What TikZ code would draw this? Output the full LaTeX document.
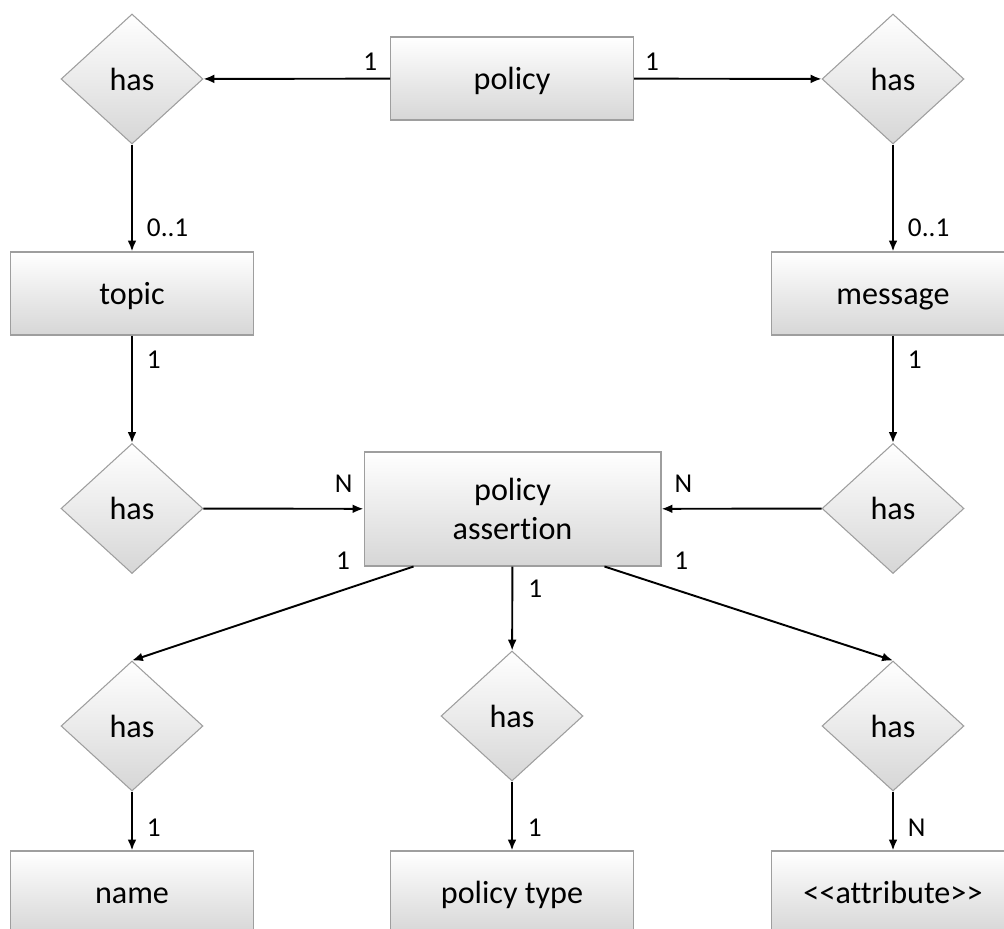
\documentclass[tikz,border=0pt]{standalone}
\usepackage{fontspec}
\setmainfont{Carlito}[Ligatures=NoCommon]
\usetikzlibrary{shapes,arrows,arrows.meta,positioning}

\begin{document}
\begin{tikzpicture}[x=0.02cm, y=-0.02cm, >={Latex[length=6.2pt, width=5pt]},
    entity/.style={rectangle, draw=black!38, line width=0.6pt,
      top color=white, middle color=white, bottom color=black!16,
      minimum width=4.86cm, minimum height=1.66cm, inner sep=0pt,
      text height=16pt, text depth=3pt,
      font=\fontsize{18.3}{22.7}\selectfont},
    rel/.style={diamond, draw=black!38, line width=0.6pt,
      top color=white, middle color=white, bottom color=black!16,
      minimum width=2.84cm, minimum height=2.6cm, inner sep=0pt,
      text height=16pt, text depth=3pt,
      font=\fontsize{18.3}{22.7}\selectfont},
    lbl/.style={inner sep=0pt, font=\fontsize{15.5}{17}\selectfont},
    link/.style={->, line width=1.1pt}]
  \useasboundingbox (0,0) rectangle (1004,929);
  \node[entity] (policy) at (512,78.5) {policy};
  \node[rel] (hasTL) at (132,79) {has};
  \node[rel] (hasTR) at (893,79) {has};
  \node[entity] (topic) at (132,293.5) {topic};
  \node[entity] (message) at (893,293.5) {message};
  \node[rel] (hasML) at (132,508.5) {has};
  \node[rel] (hasMR) at (893,508.5) {has};
  \node[entity, minimum width=5.94cm, minimum height=2.28cm, align=center,
    text height={}, text depth={}] (assertion) at (512.5,509) {policy\\assertion};
  \node[rel] (hasBL) at (132,726) {has};
  \node[rel] (hasBM) at (512,716) {has};
  \node[rel] (hasBR) at (893,726) {has};
  \node[entity] (name) at (132,892.5) {name};
  \node[entity] (ptype) at (512,892.5) {policy type};
  \node[entity] (attribute) at (893,892.5) {<\kern0pt<attribute>\kern0pt>};

  \draw[link] (policy) to node[lbl, pos=0.106, above=0.14cm] {1} (hasTL);
  \draw[link] (policy) to node[lbl, pos=0.096, above=0.14cm] {1} (hasTR);
  \draw[link] (hasTL) to node[lbl, pos=0.78, right=0.28cm] {0..1} (topic);
  \draw[link] (hasTR) to node[lbl, pos=0.78, right=0.28cm] {0..1} (message);
  \draw[link] (topic) to node[lbl, pos=0.23, right=0.28cm] {1} (hasML);
  \draw[link] (message) to node[lbl, pos=0.23, right=0.28cm] {1} (hasMR);
  \draw[link] (hasML) to node[lbl, pos=0.876, above=0.3cm] {N} (assertion);
  \draw[link] (hasMR) to node[lbl, pos=0.863, above=0.3cm] {N} (assertion);
  \draw[link] ([xshift=-1.98cm]assertion.south) to node[lbl, pos=0.25, above=0.4cm] {1} (hasBL.north);
  \draw[link] (assertion) to node[lbl, pos=0.26, right=0.3cm] {1} (hasBM);
  \draw[link] ([xshift=1.84cm]assertion.south) to node[lbl, pos=0.266, above=0.42cm] {1} (hasBR.north);
  \draw[link] (hasBL) to node[lbl, pos=0.62, right=0.28cm] {1} (name);
  \draw[link] (hasBM) to node[lbl, pos=0.67, right=0.3cm] {1} (ptype);
  \draw[link] (hasBR) to node[lbl, pos=0.62, right=0.28cm] {N} (attribute);
\end{tikzpicture}
\end{document}
